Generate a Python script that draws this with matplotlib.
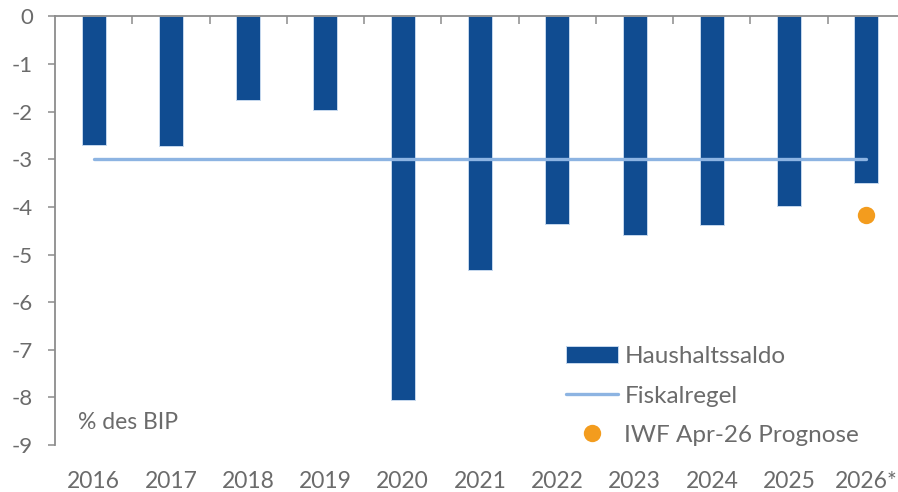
import numpy as np
import matplotlib.pyplot as plt

# Daten (in % des BIP)
jahre = ["2016", "2017", "2018", "2019", "2020", "2021", "2022", "2023", "2024", "2025", "2026*"]
haushaltssaldo = [-2.70, -2.73, -1.75, -1.96, -8.06, -5.33, -4.35, -4.59, -4.37, -3.98, -3.50]
fiskalregel = [-3.0] * len(jahre)
iwf_jahr = "2026*"
iwf_prognose = -4.17

plt.rcParams['font.family'] = ['Lato', 'DejaVu Sans']
grau = '#6b6b6b'
achse = '#8c8c8c'

fig = plt.figure(figsize=(8.98, 4.92), dpi=100)
ax = fig.add_axes([55 / 898, 1 - 445 / 492, 850 / 898, 428.5 / 492])

x = np.arange(len(jahre))
balken = ax.bar(x, haushaltssaldo, width=0.31, color='#104C91', edgecolor='#c5d8ee',
                linewidth=0.7, label='Haushaltssaldo', zorder=2)
linie, = ax.plot(x, fiskalregel, color='#8DB4E2', linewidth=2.4, solid_capstyle='round',
                 label='Fiskalregel', zorder=3)
punkt, = ax.plot([jahre.index(iwf_jahr)], [iwf_prognose], 'o', color='#F39C1E', markersize=12.5,
                 markeredgewidth=0, label='IWF Apr-26 Prognose', zorder=4)

ax.set_xlim(-0.5, len(jahre) - 0.5)
ax.set_ylim(-9, 0)

# Achsen
for s in ['right', 'bottom']:
    ax.spines[s].set_visible(False)
for s in ['left', 'top']:
    ax.spines[s].set_color(achse)
    ax.spines[s].set_linewidth(1.3)

ax.set_yticks(range(-9, 1))
ax.set_yticklabels([str(v) for v in range(-9, 1)])
ax.tick_params(axis='y', colors=achse, length=5, width=1.1, pad=11,
               labelsize=16, labelcolor=grau)

ax.set_xticks(x)
ax.set_xticklabels(jahre)
ax.tick_params(axis='x', which='major', length=0, pad=19, labelsize=16.5, labelcolor=grau)
ax.set_xticks(np.arange(len(jahre) - 1) + 0.5, minor=True)
ax.tick_params(axis='x', which='minor', bottom=False, top=True, direction='in',
               length=5.8, width=1.1, color=achse)

ax.text(-0.2, -8.52, '% des BIP', ha='left', va='center', fontsize=16.5, color=grau)

leg = ax.legend([balken, linie, punkt], ['Haushaltssaldo', 'Fiskalregel', 'IWF Apr-26 Prognose'],
                loc='center left', bbox_to_anchor=(566 / 898, 1 - 396 / 492),
                bbox_transform=fig.transFigure, frameon=False, fontsize=17.5,
                handlelength=2.15, handletextpad=0.25, labelspacing=0.75,
                borderpad=0, borderaxespad=0)
for t in leg.get_texts():
    t.set_color(grau)

fig.savefig('out.png', dpi=100)
